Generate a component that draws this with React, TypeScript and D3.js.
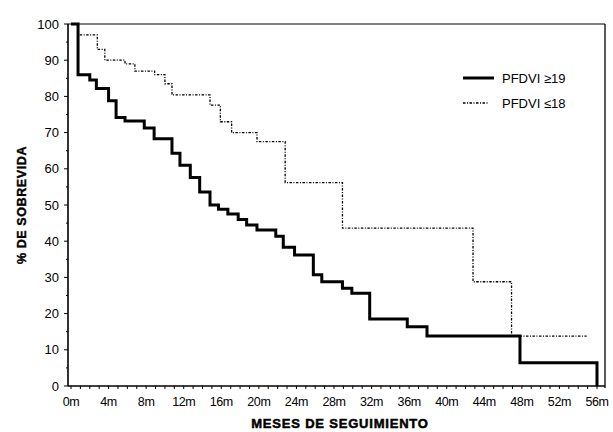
import React from "react";
import * as d3 from "d3";

// ---- data ----
const xTickValues = [0, 4, 8, 12, 16, 20, 24, 28, 32, 36, 40, 44, 48, 52, 56];
const xTickLabels = ["0m", "4m", "8m", "12m", "16m", "20m", "24m", "28m", "32m", "36m", "40m", "44m", "48m", "52m", "56m"];
const yTickValues = [0, 10, 20, 30, 40, 50, 60, 70, 80, 90, 100];
const yTickLabels = ["0", "10", "20", "30", "40", "50", "60", "70", "80", "90", "100"];
const seriesNames = ["PFDVI \u226519", "PFDVI \u226418"];
const xTitle = "MESES DE SEGUIMIENTO";
const yTitle = "% DE SOBREVIDA";

// PFDVI >=19 (solid)
const solidTimes = [0, 0.75, 2.0, 2.7, 4.0, 4.8, 5.75, 7.8, 8.85, 10.75, 11.6, 12.7, 13.7, 14.8, 15.7, 16.7, 17.8, 18.7, 19.8, 21.8, 22.6, 23.8, 25.8, 26.7, 28.9, 29.9, 31.8, 35.8, 37.9, 47.8, 56];
const solidValues = [100, 86, 84.5, 82.2, 78.8, 74.2, 73.2, 71.3, 68.3, 64.3, 61, 57.6, 53.6, 50, 48.8, 47.5, 46, 44.5, 43.1, 41.4, 38.3, 36.2, 30.7, 28.8, 27, 25.6, 18.5, 16.4, 13.8, 6.4, 0];

// PFDVI <=18 (dotted)
const dottedTimes = [0, 0.75, 2.8, 3.6, 5.75, 6.8, 8.9, 10.0, 10.75, 14.8, 15.9, 17.1, 19.8, 22.8, 28.9, 42.8, 46.9, 54.9];
const dottedValues = [100, 97, 93, 90, 89, 87, 86, 83.5, 80.4, 77.6, 73, 70, 67.5, 56.2, 43.6, 28.8, 13.8, 13.8];

const FONT = "'Liberation Sans', Arial, Helvetica, sans-serif";

export default function App() {
  const W = 613;
  const H = 432;
  const left = 68, right = 605, top = 24, bottom = 386;
  const x = d3.scaleLinear().domain([0, 56]).range([71, 597]);
  const y = d3.scaleLinear().domain([0, 100]).range([bottom, top]);

  const line = d3
    .line<[number, number]>()
    .x((d) => x(d[0]))
    .y((d) => y(d[1]))
    .curve(d3.curveStepAfter);

  const solidPts: [number, number][] = solidTimes.map((t, i) => [t, solidValues[i]]);
  const dottedPts: [number, number][] = dottedTimes.map((t, i) => [t, dottedValues[i]]);

  const minorX = d3.range(0, 57, 1);
  const minorY = d3.range(5, 100, 10);

  return (
    <div style={{ position: "absolute", left: 0, top: 0 }}>
      <svg width={W} height={H} style={{ display: "block", background: "#fff" }}>
        {/* frame */}
        <line x1={left} x2={right} y1={top} y2={top} stroke="#000" strokeWidth={1.2} />
        <line x1={right} x2={right} y1={top} y2={bottom + 2} stroke="#000" strokeWidth={1.3} />
        <line x1={left} x2={left} y1={top} y2={bottom} stroke="#000" strokeWidth={1.6} />
        <line x1={left} x2={right} y1={bottom} y2={bottom} stroke="#000" strokeWidth={1.6} />

        {/* x ticks */}
        {minorX.map((m) => (
          <line key={"mx" + m} x1={x(m)} x2={x(m)} y1={bottom} y2={bottom + 3} stroke="#000" strokeWidth={1} />
        ))}
        {xTickValues.map((v, i) => (
          <text
            key={"xt" + v}
            x={x(v)}
            y={406}
            textAnchor="middle"
            fontFamily={FONT}
            fontSize={12.5}
            letterSpacing={-0.4}
            fill="#000"
          >
            {xTickLabels[i]}
          </text>
        ))}

        {/* y ticks */}
        {yTickValues.map((v, i) => (
          <g key={"yt" + v}>
            <line x1={left - 4} x2={left} y1={y(v)} y2={y(v)} stroke="#000" strokeWidth={1} />
            <text
              x={59}
              y={y(v)}
              dy="0.36em"
              textAnchor="end"
              fontFamily={FONT}
              fontSize={13}
              fill="#000"
            >
              {yTickLabels[i]}
            </text>
          </g>
        ))}
        {minorY.map((v) => (
          <line key={"my" + v} x1={left - 2} x2={left} y1={y(v)} y2={y(v)} stroke="#000" strokeWidth={1} />
        ))}

        {/* curves */}
        <path
          d={line(dottedPts) || ""}
          fill="none"
          stroke="#000"
          strokeWidth={1.3}
          strokeDasharray="2.5,1.5,1,1.5"
        />
        <path d={line(solidPts) || ""} fill="none" stroke="#000" strokeWidth={3} strokeLinejoin="miter" />

        {/* legend */}
        <line x1={463} x2={494} y1={78} y2={78} stroke="#000" strokeWidth={3} />
        <text x={502} y={83} fontFamily={FONT} fontSize={13} fill="#000">
          {seriesNames[0]}
        </text>
        <line x1={463} x2={489} y1={103} y2={103} stroke="#000" strokeWidth={1.3} strokeDasharray="2.5,1.5,1,1.5" />
        <text x={502} y={108} fontFamily={FONT} fontSize={13} fill="#000">
          {seriesNames[1]}
        </text>

        {/* axis titles */}
        <text
          x={340}
          y={428}
          textAnchor="middle"
          fontFamily={FONT}
          fontSize={13}
          fontWeight={900}
          letterSpacing={0.8}
          stroke="#000"
          strokeWidth={0.5}
          fill="#000"
        >
          {xTitle}
        </text>
        <text
          transform={`translate(26, ${(top + bottom) / 2}) rotate(-90)`}
          textAnchor="middle"
          fontFamily={FONT}
          fontSize={12.5}
          fontWeight={900}
          letterSpacing={0.6}
          stroke="#000"
          strokeWidth={0.4}
          fill="#000"
        >
          {yTitle}
        </text>
      </svg>
    </div>
  );
}
